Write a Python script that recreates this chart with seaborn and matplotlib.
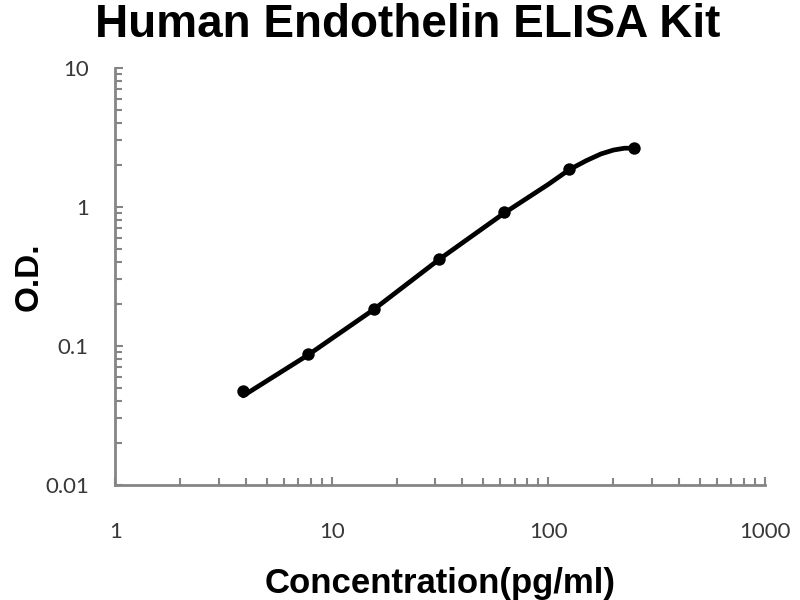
import matplotlib
matplotlib.use("Agg")
import matplotlib.pyplot as plt
import seaborn as sns
import pandas as pd
from matplotlib.ticker import FixedLocator, LogLocator, NullFormatter

# ---- data ----
concentration = [3.9, 7.8, 15.6, 31.25, 62.5, 125, 250]
od_values = [0.047, 0.087, 0.185, 0.42, 0.92, 1.87, 2.63]

curve_conc = [3.9, 7.8, 15.6, 31.25, 62.5, 100, 125, 150, 175, 200, 225, 250]
curve_od = [0.0437, 0.0862, 0.182, 0.417, 0.90, 1.45, 1.85, 2.15, 2.40, 2.56, 2.64, 2.64]

x_ticks = [1, 10, 100, 1000]
x_tick_labels = ["1", "10", "100", "1000"]
y_ticks = [0.01, 0.1, 1, 10]
y_tick_labels = ["0.01", "0.1", "1", "10"]

title = "Human Endothelin ELISA Kit"
x_label = "Concentration(pg/ml)"
y_label = "O.D."

points = pd.DataFrame({"conc": concentration, "od": od_values})
curve = pd.DataFrame({"conc": curve_conc, "od": curve_od})

sns.set_style("white")
plt.rcParams["font.family"] = ["Lato", "DejaVu Sans"]

fig = plt.figure(figsize=(8, 6), dpi=100)
ax = fig.add_axes([0.144, 0.192, 0.812, 0.695])

sns.lineplot(data=curve, x="conc", y="od", ax=ax, color="black", linewidth=3.4,
             sort=False, estimator=None)
sns.scatterplot(data=points, x="conc", y="od", ax=ax, color="black", s=80,
                edgecolor="black", linewidth=0, zorder=3)

ax.set_xscale("log")
ax.set_yscale("log")
ax.set_xlim(1, 1000)
ax.set_ylim(0.01, 10)

ax.xaxis.set_major_locator(FixedLocator(x_ticks))
ax.set_xticklabels(x_tick_labels)
ax.yaxis.set_major_locator(FixedLocator(y_ticks))
ax.set_yticklabels(y_tick_labels)
ax.xaxis.set_minor_locator(LogLocator(base=10, subs=range(2, 10), numticks=20))
ax.yaxis.set_minor_locator(LogLocator(base=10, subs=range(2, 10), numticks=20))
ax.xaxis.set_minor_formatter(NullFormatter())
ax.yaxis.set_minor_formatter(NullFormatter())

spine_color = "#858585"
for side in ["top", "right"]:
    ax.spines[side].set_visible(False)
for side in ["left", "bottom"]:
    ax.spines[side].set_color(spine_color)
    ax.spines[side].set_linewidth(2)

ax.tick_params(axis="both", which="both", direction="in", color=spine_color,
               width=1.5, labelsize=16, labelcolor="#383838",
               bottom=True, left=True, top=False, right=False)
ax.tick_params(axis="both", which="major", length=6)
ax.tick_params(axis="both", which="minor", length=5)
ax.tick_params(axis="x", which="major", pad=27)
ax.tick_params(axis="y", which="major", pad=19)

ax.set_xlabel(x_label, fontsize=25, fontweight="bold", family=["Liberation Sans", "DejaVu Sans"],
              color="black")
ax.xaxis.label.set_va("baseline")
ax.xaxis.set_label_coords(0.5, -0.259)

ax.set_ylabel(y_label, fontsize=24, fontweight="bold", family=["Liberation Sans", "DejaVu Sans"],
              color="black")
ax.yaxis.label.set_va("baseline")
ax.yaxis.set_label_coords(-0.12, 0.5)

fig.text(0.51, 1 - 37 / 600, title, ha="center", va="baseline", fontsize=33, fontweight="bold",
         family=["Liberation Sans", "DejaVu Sans"], color="black")

fig.savefig("out.png", dpi=100, facecolor="white")
